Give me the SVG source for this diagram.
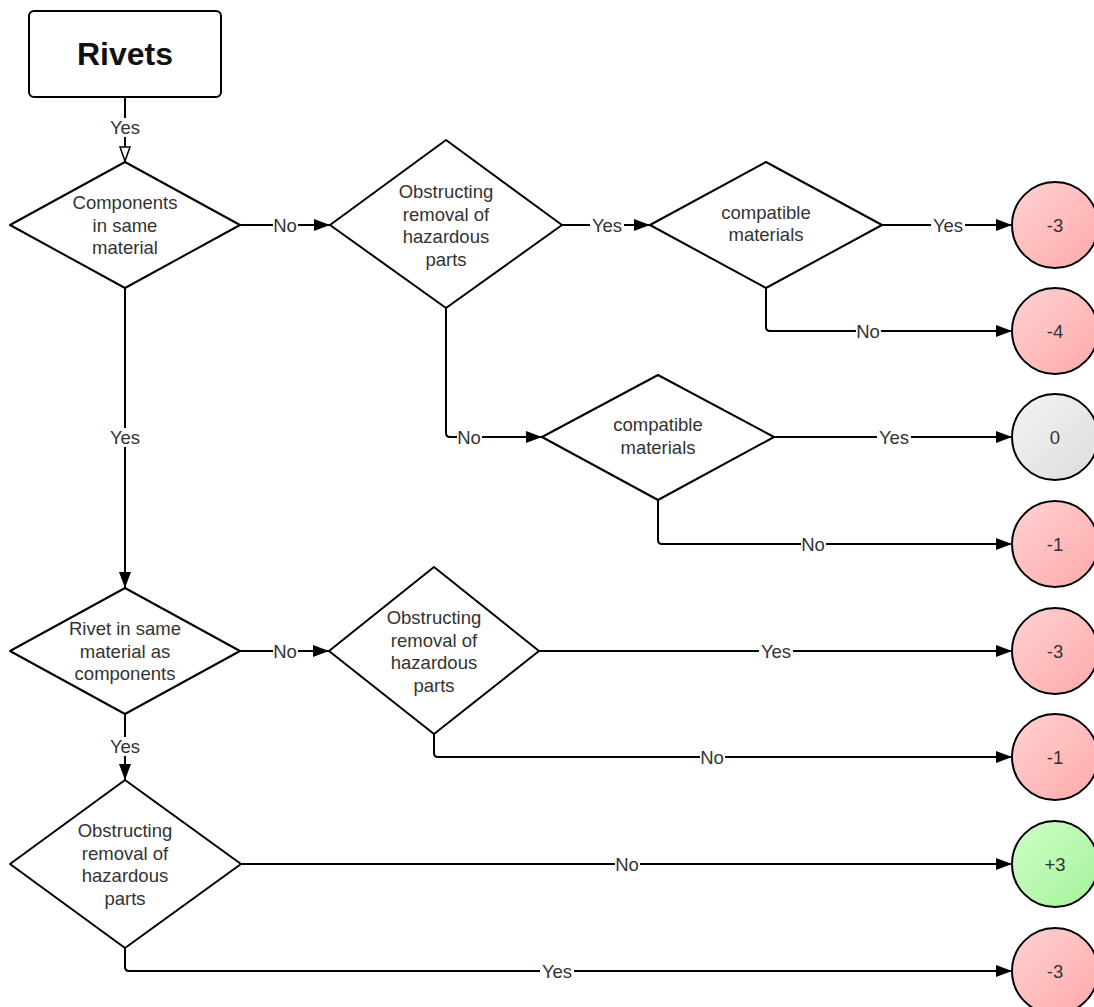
<svg xmlns="http://www.w3.org/2000/svg" width="1094" height="1007" viewBox="0 0 1094 1007">
  <style>
    .shape { fill: #ffffff; stroke: #000000; stroke-width: 2; stroke-linejoin: round; }
    .txt { font-family: "Liberation Sans", Arial, sans-serif; font-size: 18.5px; fill: #333333; text-anchor: middle; }
    .title { font-family: "Liberation Sans", Arial, sans-serif; font-size: 32px; font-weight: bold; fill: #111111; text-anchor: middle; }
    .edge { fill: none; stroke: #000000; stroke-width: 2; }
    .lbl { font-family: "Liberation Sans", Arial, sans-serif; font-size: 18.5px; fill: #333333; text-anchor: middle; }
    .lblbg { fill: #ffffff; }
    .red { fill: url(#gRed); stroke: #000; stroke-width: 2; }
    .green { fill: url(#gGreen); stroke: #000; stroke-width: 2; }
    .grey { fill: url(#gGrey); stroke: #000; stroke-width: 2; }
  </style>
  <defs>
    <marker id="arrow" markerUnits="userSpaceOnUse" markerWidth="18" markerHeight="14" refX="16" refY="6" orient="auto">
      <path d="M0,0 L16,6 L0,12 Z" fill="#000"/>
    </marker>
    <marker id="arrowOpen" markerUnits="userSpaceOnUse" markerWidth="18" markerHeight="14" refX="15" refY="6" orient="auto">
      <path d="M1,1 L15,6 L1,11 Z" fill="#fff" stroke="#000" stroke-width="1.5"/>
    </marker>
    <linearGradient id="gRed" x1="0" y1="0" x2="1" y2="1">
      <stop offset="0" stop-color="#ffd2d2"/>
      <stop offset="1" stop-color="#ffa9a9"/>
    </linearGradient>
    <linearGradient id="gGreen" x1="0" y1="0" x2="1" y2="1">
      <stop offset="0" stop-color="#cfffc8"/>
      <stop offset="1" stop-color="#a4f29a"/>
    </linearGradient>
    <linearGradient id="gGrey" x1="0" y1="0" x2="1" y2="1">
      <stop offset="0" stop-color="#f4f4f4"/>
      <stop offset="1" stop-color="#dcdcdc"/>
    </linearGradient>
  </defs>

  <rect width="1094" height="1007" fill="#ffffff"/>

  <!-- connectors -->
  <g id="connectors">
    <path class="edge" d="M125,97 V161" marker-end="url(#arrowOpen)"/>
    <path class="edge" d="M240,225 H330" marker-end="url(#arrow)"/>
    <path class="edge" d="M562,225 H650" marker-end="url(#arrow)"/>
    <path class="edge" d="M882,225 H1012" marker-end="url(#arrow)"/>
    <path class="edge" d="M766,288 V327 Q766,331 770,331 H1012" marker-end="url(#arrow)"/>
    <path class="edge" d="M446,308 V433 Q446,437 450,437 H542" marker-end="url(#arrow)"/>
    <path class="edge" d="M774,437 H1012" marker-end="url(#arrow)"/>
    <path class="edge" d="M658,500 V540 Q658,544 662,544 H1012" marker-end="url(#arrow)"/>
    <path class="edge" d="M125,288 V588" marker-end="url(#arrow)"/>
    <path class="edge" d="M240,651 H329" marker-end="url(#arrow)"/>
    <path class="edge" d="M539,651 H1012" marker-end="url(#arrow)"/>
    <path class="edge" d="M434,734 V753 Q434,757 438,757 H1012" marker-end="url(#arrow)"/>
    <path class="edge" d="M125,714 V780" marker-end="url(#arrow)"/>
    <path class="edge" d="M241,864 H1012" marker-end="url(#arrow)"/>
    <path class="edge" d="M125,948 V967 Q125,971 129,971 H1012" marker-end="url(#arrow)"/>

    <!-- edge labels -->
    <rect class="lblbg" x="108" y="118" width="34" height="19"/>
    <text class="lbl" x="125" y="134">Yes</text>
    <rect class="lblbg" x="273" y="216" width="25" height="19"/>
    <text class="lbl" x="285" y="231.5">No</text>
    <rect class="lblbg" x="590" y="216" width="34" height="19"/>
    <text class="lbl" x="607" y="231.5">Yes</text>
    <rect class="lblbg" x="931" y="216" width="34" height="19"/>
    <text class="lbl" x="948" y="231.5">Yes</text>
    <rect class="lblbg" x="856" y="322" width="25" height="19"/>
    <text class="lbl" x="868" y="337.5">No</text>
    <rect class="lblbg" x="457" y="428" width="25" height="19"/>
    <text class="lbl" x="469" y="443.5">No</text>
    <rect class="lblbg" x="877" y="428" width="34" height="19"/>
    <text class="lbl" x="894" y="443.5">Yes</text>
    <rect class="lblbg" x="801" y="535" width="25" height="19"/>
    <text class="lbl" x="813" y="550.5">No</text>
    <rect class="lblbg" x="108" y="428" width="34" height="19"/>
    <text class="lbl" x="125" y="443.5">Yes</text>
    <rect class="lblbg" x="273" y="642" width="25" height="19"/>
    <text class="lbl" x="285" y="657.5">No</text>
    <rect class="lblbg" x="759" y="642" width="34" height="19"/>
    <text class="lbl" x="776" y="657.5">Yes</text>
    <rect class="lblbg" x="700" y="748" width="25" height="19"/>
    <text class="lbl" x="712" y="763.5">No</text>
    <rect class="lblbg" x="108" y="737" width="34" height="19"/>
    <text class="lbl" x="125" y="753">Yes</text>
    <rect class="lblbg" x="615" y="855" width="25" height="19"/>
    <text class="lbl" x="627" y="870.5">No</text>
    <rect class="lblbg" x="540" y="962" width="34" height="19"/>
    <text class="lbl" x="557" y="977.5">Yes</text>
  </g>

  <!-- start -->
  <g id="rivets">
    <rect class="shape" x="29" y="11" width="192" height="86" rx="5"/>
    <text class="title" x="125" y="65">Rivets</text>
  </g>

  <!-- decisions -->
  <g id="components-same-material">
    <polygon class="shape" points="125,162 240,225 125,288 10,225"/>
    <text class="txt" x="125" y="209">Components</text>
    <text class="txt" x="125" y="231.5">in same</text>
    <text class="txt" x="125" y="254">material</text>
  </g>

  <g id="obstructing-1">
    <polygon class="shape" points="446,140 562,225 446,308 330,225"/>
    <text class="txt" x="446" y="198">Obstructing</text>
    <text class="txt" x="446" y="220.5">removal of</text>
    <text class="txt" x="446" y="243">hazardous</text>
    <text class="txt" x="446" y="265.5">parts</text>
  </g>

  <g id="compatible-1">
    <polygon class="shape" points="766,162 882,225 766,288 650,225"/>
    <text class="txt" x="766" y="218.5">compatible</text>
    <text class="txt" x="766" y="241">materials</text>
  </g>

  <g id="compatible-2">
    <polygon class="shape" points="658,375 774,437 658,500 542,437"/>
    <text class="txt" x="658" y="431">compatible</text>
    <text class="txt" x="658" y="453.5">materials</text>
  </g>

  <g id="rivet-same-material">
    <polygon class="shape" points="125,588 240,651 125,714 10,651"/>
    <text class="txt" x="125" y="635">Rivet in same</text>
    <text class="txt" x="125" y="657.5">material as</text>
    <text class="txt" x="125" y="680">components</text>
  </g>

  <g id="obstructing-2">
    <polygon class="shape" points="434,567 539,651 434,734 329,651"/>
    <text class="txt" x="434" y="624">Obstructing</text>
    <text class="txt" x="434" y="646.5">removal of</text>
    <text class="txt" x="434" y="669">hazardous</text>
    <text class="txt" x="434" y="691.5">parts</text>
  </g>

  <g id="obstructing-3">
    <polygon class="shape" points="125,780 241,864 125,948 10,864"/>
    <text class="txt" x="125" y="837">Obstructing</text>
    <text class="txt" x="125" y="859.5">removal of</text>
    <text class="txt" x="125" y="882">hazardous</text>
    <text class="txt" x="125" y="904.5">parts</text>
  </g>

  <!-- outcomes -->
  <g id="score-1">
    <circle class="red" cx="1055" cy="225" r="43"/>
    <text class="txt" x="1055" y="231.5">-3</text>
  </g>
  <g id="score-2">
    <circle class="red" cx="1055" cy="331" r="43"/>
    <text class="txt" x="1055" y="337.5">-4</text>
  </g>
  <g id="score-3">
    <circle class="grey" cx="1055" cy="437" r="43"/>
    <text class="txt" x="1055" y="443.5">0</text>
  </g>
  <g id="score-4">
    <circle class="red" cx="1055" cy="544" r="43"/>
    <text class="txt" x="1055" y="550.5">-1</text>
  </g>
  <g id="score-5">
    <circle class="red" cx="1055" cy="651" r="43"/>
    <text class="txt" x="1055" y="657.5">-3</text>
  </g>
  <g id="score-6">
    <circle class="red" cx="1055" cy="757" r="43"/>
    <text class="txt" x="1055" y="763.5">-1</text>
  </g>
  <g id="score-7">
    <circle class="green" cx="1055" cy="864" r="43"/>
    <text class="txt" x="1055" y="870.5">+3</text>
  </g>
  <g id="score-8">
    <circle class="red" cx="1055" cy="971" r="43"/>
    <text class="txt" x="1055" y="977.5">-3</text>
  </g>
</svg>
